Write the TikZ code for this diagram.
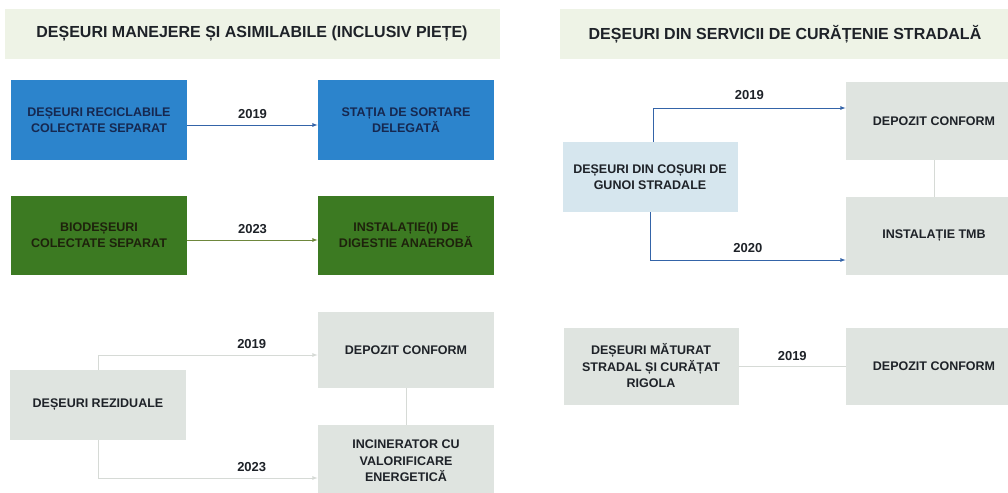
\documentclass[tikz,border=0pt]{standalone}
\usepackage{fontspec}
\setmainfont{Liberation Sans}
\usetikzlibrary{positioning}

\definecolor{bannerbg}{RGB}{238,243,230}
\definecolor{boxblue}{RGB}{44,132,204}
\definecolor{boxgreen}{RGB}{60,122,34}
\definecolor{boxgray}{RGB}{223,228,224}
\definecolor{boxlight}{RGB}{214,230,238}
\definecolor{lineblue}{RGB}{52,100,168}
\definecolor{linegreen}{RGB}{110,135,60}
\definecolor{linegray}{RGB}{214,218,214}
\definecolor{txtdark}{RGB}{30,34,40}

\tikzset{
  box/.style={minimum width=176pt, minimum height=79pt, align=center, inner sep=2pt,
    text=txtdark, font=\fontsize{12.5}{16.5}\selectfont\bfseries},
  bluebox/.style={box, fill=boxblue, text={rgb,255:red,22;green,40;blue,80}},
  greenbox/.style={box, fill=boxgreen, text={rgb,255:red,30;green,34;blue,12}},
  graybox/.style={box, fill=boxgray},
  banner/.style={fill=bannerbg, minimum height=50pt, font=\fontsize{16}{18}\selectfont\bfseries, text=txtdark},
  year/.style={font=\fontsize{13}{14}\selectfont\bfseries, text=txtdark}
}

\begin{document}
\begin{tikzpicture}[x=1pt,y=-1pt,thick]
    \useasboundingbox (0,0) rectangle (1008,492);

    \node[banner, minimum width=495pt] (titleA) at (252,34) {DEȘEURI MANEJERE ȘI ASIMILABILE (INCLUSIV PIEȚE)};
    \node[banner, minimum width=450pt] (titleB) at (785,34) {DEȘEURI DIN SERVICII DE CURĂȚENIE STRADALĂ};

    \node[bluebox] (recicl) at (99,120) {DEȘEURI RECICLABILE\\COLECTATE SEPARAT};
    \node[bluebox] (sortare) at (406,120) {STAȚIA DE SORTARE\\DELEGATĂ};
    \node[greenbox] (bio) at (99,235) {BIODEȘEURI\\COLECTATE SEPARAT};
    \node[greenbox] (digest) at (406,235) {INSTALAȚIE(I) DE\\DIGESTIE ANAEROBĂ};

    \node[graybox, minimum height=70pt] (rezid) at (98,405) {DEȘEURI REZIDUALE};
    \node[graybox, minimum height=76pt] (depA) at (406,350) {DEPOZIT CONFORM};
    \node[graybox, minimum height=72pt] (incin) at (406,461) {INCINERATOR CU\\VALORIFICARE\\ENERGETICĂ};

    \node[box, fill=boxlight, minimum width=175pt, minimum height=70pt] (cosuri) at (650,177) {DEȘEURI DIN COȘURI DE\\GUNOI STRADALE};
    \node[graybox, minimum height=78pt] (depB) at (934,121) {DEPOZIT CONFORM};
    \node[graybox, minimum height=78pt] (tmb) at (934,236) {INSTALAȚIE TMB};

    \node[graybox, minimum width=175pt, minimum height=77pt] (matur) at (651,366) {DEȘEURI MĂTURAT\\STRADAL ȘI CURĂȚAT\\RIGOLA};
    \node[graybox, minimum height=77pt] (depC) at (934,366) {DEPOZIT CONFORM};

    \draw[lineblue, -latex] ([yshift=-5pt]recicl.east) -- ([yshift=-5pt]sortare.west) node[year, midway, above=3pt] {2019};
    \draw[linegreen, -latex] ([yshift=-5pt]bio.east) -- ([yshift=-5pt]digest.west) node[year, midway, above=3pt] {2023};

    \draw[linegray, -latex] (rezid.north) |- ([yshift=-5pt]depA.west) node[year, pos=0.85, above=3pt] {2019};
    \draw[linegray, -latex] (rezid.south) |- ([yshift=-17pt]incin.west) node[year, pos=0.85, above=3pt] {2023};
    \draw[linegray] (incin) -- (depA); % vertical link

    \draw[lineblue, -latex] ([xshift=3pt]cosuri.north) |- ([yshift=13pt]depB.west) node[year, pos=0.75, above=5pt] {2019};
    \draw[lineblue, -latex] (cosuri.south) |- ([yshift=-24pt]tmb.west) node[year, pos=0.75, above=4pt] {2020};
    \draw[linegray] (tmb) -- (depB); % vertical link

    \draw[linegray] (matur) -- (depC) node[year, midway, above=2pt] {2019};
\end{tikzpicture}
\end{document}
